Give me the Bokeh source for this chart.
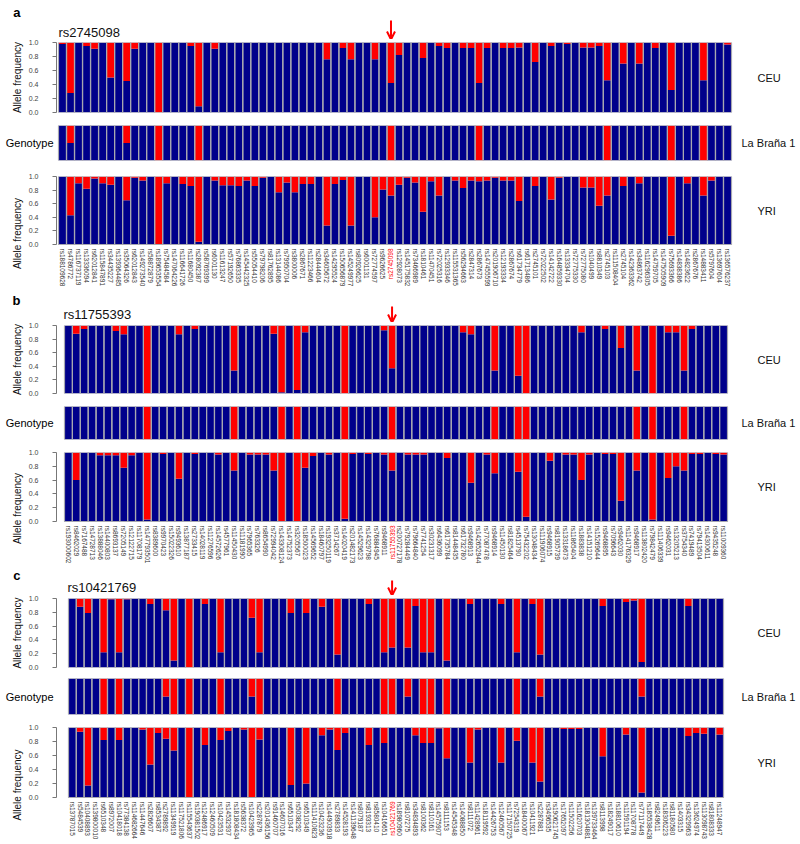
import math
from bokeh.plotting import figure
from bokeh.layouts import column
from bokeh.models import (ColumnDataSource, Range1d, LinearAxis, FixedTicker,
                          PrintfTickFormatter, Label, Arrow, OpenHead)
from bokeh.embed import file_html
from bokeh.resources import INLINE

# ---------------- data ----------------
focal_a = "rs2745098"
snps_a = ["rs188109628", "rs4786772", "rs116737119", "rs13336094", "rs62012841", "rs115847891",
          "rs34435227", "rs139364485", "rs35064326", "rs62012843", "rs149273540", "rs58872879",
          "rs189653554", "rs75484584", "rs147064226", "rs116641726", "rs11680450", "rs28092387",
          "rs58769399", "rs6001130", "rs11613247", "rs57192650", "rs76863335", "rs145442325",
          "rs55054410", "rs79798206", "rs81762895", "rs13144086", "rs79950704", "rs3800006",
          "rs2867671", "rs11223466", "rs28444604", "rs34605672", "rs14295524", "rs150656879",
          "rs145249977", "rs80926625", "rs6001131", "rs72774597", "rs9626625", "rs2745098",
          "rs12928073", "rs145175832", "rs73466989", "rs1810461", "rs11470451", "rs72025316",
          "rs12933346", "rs115531365", "rs56294663", "rs2847314", "rs2867673", "rs147455599",
          "rs201906710", "rs12193334", "rs2867674", "rs61734779", "rs61713486", "rs2745101",
          "rs72022502", "rs14142722", "rs164859330", "rs13334704", "rs72775330", "rs72775080",
          "rs1040499", "rs8810349", "rs2745103", "rs111508404", "rs2745104", "rs142363362",
          "rs34863742", "rs116296305", "rs14759705", "rs147505909", "rs75693366", "rs14838386",
          "rs14823622", "rs2867676", "rs14883411", "rs5797604", "rs13697604", "rs136576237"]
ceu_a = [0.98, 0.28, 1.0, 0.95, 0.91, 1.0, 0.50, 1.0, 0.45, 0.91,
         1.0, 1.0, 0.0, 1.0, 1.0, 1.0, 0.95, 0.09, 1.0, 0.91,
         1.0, 1.0, 1.0, 1.0, 1.0, 1.0, 1.0, 1.0, 1.0, 1.0,
         1.0, 1.0, 1.0, 0.76, 1.0, 0.92, 0.76, 1.0, 1.0, 0.76,
         1.0, 0.42, 0.82, 1.0, 1.0, 0.78, 1.0, 0.95, 0.92, 1.0,
         0.92, 0.92, 0.42, 0.92, 1.0, 0.92, 0.92, 0.93, 1.0, 0.72,
         1.0, 0.95, 1.0, 0.98, 1.0, 0.93, 0.93, 0.95, 0.46, 1.0,
         0.70, 1.0, 0.70, 1.0, 0.92, 1.0, 0.32, 1.0, 1.0, 1.0,
         0.46, 1.0, 1.0, 0.97]
geno_a = [1, 0.5, 1, 1, 1, 1, 1, 1, 0.5, 1,
          1, 1, 0, 1, 1, 1, 1, 0, 1, 1,
          1, 1, 1, 1, 1, 1, 1, 1, 1, 1,
          1, 1, 1, 1, 1, 1, 1, 1, 1, 1,
          1, 0, 1, 1, 1, 1, 1, 1, 1, 1,
          1, 1, 0, 1, 1, 1, 1, 1, 1, 1,
          1, 1, 1, 1, 1, 1, 1, 1, 0, 1,
          1, 1, 1, 1, 1, 1, 0, 1, 1, 1,
          0, 1, 1, 1]
yri_a = [1.0, 0.43, 0.90, 0.82, 0.97, 0.90, 0.88, 1.0, 0.65, 0.98,
         0.94, 1.0, 0.0, 0.90, 1.0, 0.89, 0.86, 0.04, 1.0, 0.94,
         0.87, 0.87, 0.86, 0.94, 0.86, 0.98, 1.0, 0.77, 0.91, 0.77,
         0.89, 0.89, 1.0, 0.28, 0.89, 0.95, 0.28, 1.0, 1.0, 0.40,
         0.81, 0.72, 0.88, 0.98, 0.91, 0.48, 0.93, 0.72, 1.0, 0.94,
         0.83, 0.94, 0.93, 0.94, 0.98, 0.94, 0.94, 0.64, 1.0, 0.86,
         1.0, 0.66, 0.98, 1.0, 1.0, 0.84, 0.84, 0.57, 0.72, 1.0,
         0.86, 1.0, 0.90, 1.0, 1.0, 1.0, 0.13, 1.0, 0.90, 1.0,
         0.72, 0.94, 1.0, 1.0]

focal_b = "rs11755393"
snps_b = ["rs193000602", "rs8462029", "rs7167488", "rs14728713", "rs13888046", "rs14400803",
          "rs8693137", "rs7205149", "rs12122715", "rs11708179", "rs147793501", "rs8389600",
          "rs9970423", "rs15022326", "rs9493610", "rs13877187", "rs2733415", "rs14028119",
          "rs11276596", "rs14572626", "rs4577961", "rs11450430", "rs11181990", "rs7965365",
          "rs763326", "rs8654990", "rs72994042", "rs143308124", "rs14752373", "rs3205567",
          "rs18500023", "rs14569652", "rs18460797", "rs193250119", "rs3714267", "rs14020419",
          "rs201482173", "rs14529623", "rs14329798", "rs76884945", "rs9468911", "rs11755393",
          "rs200727178", "rs79284449", "rs79664840", "rs7741254", "rs30231317", "rs6436099",
          "rs61735784", "rs81448435", "rs61732780", "rs9468913", "rs142652944", "rs77087478",
          "rs9468914", "rs11450130", "rs81825464", "rs4513790", "rs75432202", "rs13048434",
          "rs111906074", "rs9468915", "rs81905739", "rs13318673", "rs11865404", "rs1883838",
          "rs14151210", "rs15269644", "rs9468895", "rs7096643", "rs9462030", "rs114176329",
          "rs9468917", "rs113802420", "rs79842479", "rs111406339", "rs9462031", "rs13205213",
          "rs3754340", "rs7419489", "rs79413504", "rs14300611", "rs9435248", "rs11009360"]
ceu_b = [1.0, 0.88, 0.95, 1.0, 1.0, 1.0, 0.92, 0.87, 1.0, 1.0,
         0.0, 1.0, 1.0, 1.0, 0.87, 1.0, 0.95, 1.0, 1.0, 1.0,
         1.0, 0.34, 1.0, 1.0, 1.0, 1.0, 0.88, 0.02, 1.0, 0.05,
         0.90, 1.0, 1.0, 1.0, 1.0, 0.0, 1.0, 1.0, 1.0, 1.0,
         0.93, 0.37, 1.0, 1.0, 1.0, 1.0, 1.0, 1.0, 1.0, 1.0,
         0.90, 0.87, 1.0, 1.0, 0.34, 1.0, 1.0, 0.26, 0.0, 1.0,
         1.0, 1.0, 1.0, 1.0, 1.0, 0.90, 1.0, 1.0, 0.95, 1.0,
         0.67, 1.0, 0.34, 1.0, 0.0, 1.0, 0.90, 0.90, 0.34, 0.95,
         1.0, 1.0, 1.0, 1.0]
geno_b = [1, 1, 1, 1, 1, 1, 1, 1, 1, 1,
          0, 1, 1, 1, 1, 1, 1, 1, 1, 1,
          1, 0, 1, 1, 1, 1, 1, 0, 1, 0,
          1, 1, 1, 1, 1, 0, 1, 1, 1, 1,
          1, 0, 1, 1, 1, 1, 1, 1, 1, 1,
          1, 1, 1, 1, 0, 1, 1, 0, 0, 1,
          1, 1, 1, 1, 1, 1, 1, 1, 1, 1,
          1, 1, 0, 1, 0, 1, 1, 1, 0, 1,
          1, 1, 1, 1]
yri_b = [1.0, 0.60, 1.0, 1.0, 0.96, 0.96, 0.96, 0.78, 0.96, 1.0,
         0.03, 1.0, 0.98, 1.0, 0.62, 1.0, 0.98, 1.0, 1.0, 0.97,
         1.0, 0.74, 1.0, 0.97, 0.97, 0.97, 0.74, 0.0, 1.0, 0.0,
         0.78, 0.95, 1.0, 0.97, 1.0, 0.04, 0.98, 1.0, 0.98, 1.0,
         0.97, 0.74, 1.0, 0.97, 0.97, 0.97, 1.0, 1.0, 0.92, 1.0,
         1.0, 0.56, 1.0, 0.97, 0.70, 1.0, 1.0, 0.72, 0.07, 1.0,
         1.0, 0.88, 1.0, 0.97, 0.97, 0.60, 0.97, 1.0, 0.98, 0.98,
         0.30, 1.0, 0.74, 1.0, 0.03, 1.0, 0.63, 0.80, 0.74, 0.98,
         0.98, 1.0, 0.98, 0.97]

focal_c = "rs10421769"
snps_c = ["rs13787015", "rs5484539", "rs10408893", "rs139800010", "rs6510348", "rs8972007",
          "rs10418018", "rs77384138", "rs114682664", "rs11447646", "rs2826607", "rs8534387",
          "rs2789892", "rs11349919", "rs117521806", "rs115543637", "rs190381502", "rs12486917",
          "rs12460509", "rs10423531", "rs14532937", "rs181808434", "rs5638372", "rs10423965",
          "rs2287879", "rs201436156", "rs91460707", "rs14607016", "rs6510347", "rs5038292",
          "rs6510349", "rs111410823", "rs10423236", "rs144903918", "rs2789833", "rs14528193",
          "rs141139648", "rs8079187", "rs8193313", "rs8580410", "rs10416651", "rs10421769",
          "rs18980960", "rs8107275", "rs34834893", "rs8100362", "rs8110161", "rs14575907",
          "rs8111153", "rs14545348", "rs14088850", "rs8111072", "rs11428961", "rs18119592",
          "rs14426753", "rs12460567", "rs117150725", "rs7254319", "rs18400067", "rs10411921",
          "rs2287881", "rs3496535", "rs190621745", "rs17652097", "rs11502256", "rs11620703",
          "rs181304881", "rs139733464", "rs8113998", "rs18249017", "rs18810610", "rs11591194",
          "rs11708778", "rs77117449", "rs185538428", "rs8249611", "rs18306223", "rs81180580",
          "rs1403315", "rs34329963", "rs13624974", "rs113098743", "rs81808333", "rs11248947"]
ceu_c = [1.0, 0.88, 0.79, 1.0, 0.22, 0.99, 0.22, 0.99, 1.0, 1.0,
         0.92, 1.0, 0.83, 0.10, 1.0, 0.0, 1.0, 0.92, 1.0, 0.22,
         1.0, 1.0, 1.0, 0.72, 0.22, 1.0, 1.0, 1.0, 0.79, 1.0,
         0.79, 1.0, 0.88, 1.0, 0.19, 1.0, 1.0, 1.0, 0.92, 1.0,
         0.22, 0.29, 1.0, 0.29, 0.89, 0.22, 0.22, 1.0, 0.10, 1.0,
         1.0, 0.92, 1.0, 1.0, 1.0, 0.92, 1.0, 0.22, 1.0, 0.92,
         0.19, 1.0, 1.0, 1.0, 1.0, 1.0, 1.0, 1.0, 0.89, 1.0,
         1.0, 0.95, 0.97, 0.08, 1.0, 1.0, 1.0, 1.0, 1.0, 0.89,
         1.0, 1.0, 1.0, 1.0]
geno_c = [1, 1, 1, 1, 0, 1, 0, 1, 1, 1,
          1, 1, 0.5, 0, 1, 0, 1, 1, 1, 0,
          1, 1, 1, 0.5, 0, 1, 1, 1, 1, 1,
          1, 1, 1, 1, 0, 1, 1, 1, 1, 1,
          0, 0, 1, 0.5, 1, 0, 0, 1, 0, 1,
          1, 1, 1, 1, 1, 1, 1, 0, 1, 1,
          0.5, 1, 1, 1, 1, 1, 1, 1, 1, 1,
          1, 1, 1, 0.5, 1, 1, 1, 1, 1, 1,
          1, 1, 1, 1]
yri_c = [1.0, 0.94, 0.17, 1.0, 0.82, 1.0, 0.82, 1.0, 1.0, 0.97,
         0.47, 0.92, 0.84, 0.67, 1.0, 0.0, 1.0, 0.75, 1.0, 0.82,
         0.95, 1.0, 0.97, 0.0, 0.83, 1.0, 1.0, 1.0, 0.18, 1.0,
         0.20, 1.0, 0.89, 0.97, 0.68, 0.92, 1.0, 1.0, 0.75, 1.0,
         0.78, 1.0, 1.0, 1.0, 0.89, 0.78, 0.78, 0.99, 0.56, 1.0,
         1.0, 0.50, 0.97, 1.0, 1.0, 0.50, 1.0, 0.81, 1.0, 0.50,
         0.23, 1.0, 1.0, 0.98, 0.98, 0.98, 1.0, 1.0, 0.59, 1.0,
         1.0, 0.90, 1.0, 0.07, 1.0, 1.0, 1.0, 1.0, 1.0, 0.88,
         0.92, 0.91, 1.0, 0.90]

row_names = ["CEU", "La Braña 1", "YRI"]
y_ticks = [0.0, 0.2, 0.4, 0.6, 0.8, 1.0]

# ---------------- style / layout ----------------
FONT = "Liberation Sans"
BLUE = "#00008B"
RED = "#FF0000"
SEP = "#A8A8B0"
W = 800
PAGE_R = 800
FRAME_L = 56          # common left edge of every plot frame (px)
BL = FRAME_L          # common left border

PANELS = [
    dict(letter="a", focal=focal_a, snps=snps_a, vals=[ceu_a, geno_a, yri_a],
         BS=58, BE=731,
         header=39, letter_mid=12, title_x=58, title_mid=32, arrow=(20, 39),
         rows=[(79, 3, 6), (48, 7, 6), (126, 10, 2)], yri_bars=68),
    dict(letter="b", focal=focal_b, snps=snps_b, vals=[ceu_b, geno_b, yri_b],
         BS=64, BE=727,
         header=30, letter_mid=299, title_x=63, title_mid=314, arrow=(306, 322),
         rows=[(78, 3, 7), (46, 6, 7), (120, 6, 2)], yri_bars=69),
    dict(letter="c", focal=focal_c, snps=snps_c, vals=[ceu_c, geno_c, yri_c],
         BS=68, BE=723,
         header=29, letter_mid=572, title_x=67, title_mid=587, arrow=(580, 595),
         rows=[(78, 3, 6), (47, 5, 6), (124, 7, 2)], yri_bars=70),
]


def draw_bars(p, vals):
    n = len(vals)
    src = ColumnDataSource(dict(x=list(range(1, n + 1)), v=[float(v) for v in vals],
                                one=[1.0] * n, zero=[0.0] * n))
    p.vbar(x="x", bottom="zero", top="v", width=1.0, source=src, fill_color=BLUE, line_color=None)
    p.vbar(x="x", bottom="v", top="one", width=1.0, source=src, fill_color=RED, line_color=None)
    p.vbar(x="x", bottom="zero", top="one", width=1.0, source=src, fill_color=None,
           line_color=SEP, line_width=1.2)


def base_fig(H, xr, yr, bt, bb):
    p = figure(width=W, height=H, output_backend="svg", toolbar_location=None, title=None,
               x_axis_location=None, y_axis_location=None, x_range=xr, y_range=yr,
               min_border_left=BL, min_border_right=0, min_border_top=bt, min_border_bottom=bb)
    p.xgrid.visible = False
    p.ygrid.visible = False
    p.outline_line_color = None
    p.background_fill_color = "white"
    p.border_fill_color = "white"
    return p


def side_text_axis(p, tick, label, size, standoff, bold=False):
    """a left axis with a single labelled tick and no rule: used for side texts"""
    ax = LinearAxis(ticker=FixedTicker(ticks=[tick]), major_label_overrides={tick: label},
                    major_label_text_font=FONT, major_label_text_font_size=size,
                    major_label_text_font_style="bold" if bold else "normal",
                    major_label_text_color="#000", major_label_standoff=standoff,
                    major_tick_out=0, major_tick_in=0, minor_tick_out=0, minor_tick_in=0,
                    axis_line_color=None, major_tick_line_color=None)
    p.add_layout(ax, "left")


def text(p, x, y, s, size="11px", **kw):
    p.add_layout(Label(x=x, y=y, x_units="screen", y_units="screen", text=s,
                       text_font=FONT, text_font_size=size,
                       text_color=kw.pop("color", "#111"), **kw))


figs = []
page_top = 0
for P in PANELS:
    n = len(P["snps"])
    hi = P["snps"].index(P["focal"])
    pitch = (P["BE"] - P["BS"]) / n
    xr_start = 0.5 + (FRAME_L - P["BS"]) / pitch
    xr_end = 0.5 + (PAGE_R - P["BS"]) / pitch

    # ---- header: panel letter, focal SNP name, arrow ----
    Hh = P["header"]
    hb = page_top + Hh  # y of header bottom
    h = base_fig(Hh, Range1d(xr_start, xr_end), Range1d(0, Hh), 0, 0)
    side_text_axis(h, hb - P["letter_mid"], P["letter"], "13px", FRAME_L - 20, bold=True)
    text(h, P["title_x"] - FRAME_L, hb - P["title_mid"], P["focal"], size="13px",
         text_baseline="middle")
    a0, a1 = P["arrow"]
    h.add_layout(Arrow(x_start=hi + 1, y_start=hb - a0, x_end=hi + 1, y_end=hb - a1,
                       line_color=RED, line_width=2,
                       end=OpenHead(size=8, line_color=RED, line_width=2)))
    figs.append(h)
    page_top += Hh

    for ri, (H, bt, bb) in enumerate(P["rows"]):
        fh = H - bt - bb
        if ri == 2:
            bars_h = P["yri_bars"]
            yr = Range1d(-(fh - bars_h) / bars_h, 1)
        else:
            yr = Range1d(0, 1)
        p = base_fig(H, Range1d(xr_start, xr_end), yr, bt, bb)
        draw_bars(p, P["vals"][ri])

        if ri != 1:
            yax = LinearAxis(ticker=FixedTicker(ticks=y_ticks),
                             formatter=PrintfTickFormatter(format="%.1f"),
                             bounds=(0, 1),
                             axis_label="Allele frequency",
                             axis_label_text_font=FONT, axis_label_text_font_size="10px",
                             axis_label_text_font_style="normal", axis_label_text_color="#111",
                             axis_label_standoff=3,
                             major_label_text_font=FONT, major_label_text_font_size="7px",
                             major_label_text_color="#444", major_label_standoff=14,
                             major_tick_out=4, major_tick_in=0,
                             minor_tick_out=0, minor_tick_in=0,
                             axis_line_color="#777", major_tick_line_color="#777")
            p.add_layout(yax, "left")
            mid = fh / 2 if ri == 0 else fh - P["yri_bars"] / 2
            rx = 757
        else:
            side_text_axis(p, 0.5, "Genotype", "11px", 3)
            mid = fh / 2
            rx = 741
        text(p, rx - FRAME_L, mid, row_names[ri], size="11px", text_baseline="middle")

        if ri == 2:
            bars_h = P["yri_bars"]
            gap = 4
            overrides = {i + 1: ("" if i == hi else s) for i, s in enumerate(P["snps"])}
            xax = LinearAxis(ticker=FixedTicker(ticks=list(range(1, n + 1))),
                             major_label_overrides=overrides,
                             major_label_orientation="vertical",
                             major_label_text_font=FONT, major_label_text_font_size="6.5px",
                             major_label_text_color="#333",
                             major_label_standoff=-(fh - bars_h - gap),
                             major_tick_out=0, major_tick_in=0,
                             minor_tick_out=0, minor_tick_in=0,
                             axis_line_color=None)
            p.add_layout(xax, "below")
            p.add_layout(Label(x=hi + 1, y=-gap / bars_h, x_units="data", y_units="data",
                               text=P["focal"], angle=math.pi / 2, text_font=FONT,
                               text_font_size="6.5px", text_color=RED,
                               text_align="right", text_baseline="middle"))
        figs.append(p)
        page_top += H

layout = column(*figs, spacing=0)
open("out.html", "w", encoding="utf-8").write(file_html(layout, INLINE))
